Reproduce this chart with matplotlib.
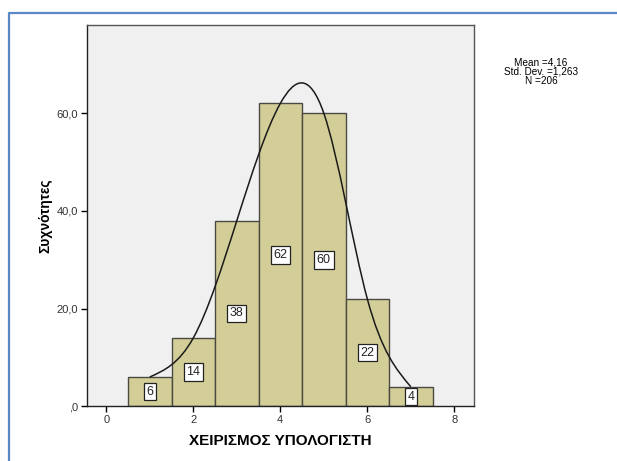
import numpy as np
import matplotlib
matplotlib.use("Agg")
import matplotlib.pyplot as plt
from matplotlib.path import Path
from matplotlib.patches import PathPatch
from matplotlib.lines import Line2D

# data
values = [1, 2, 3, 4, 5, 6, 7]
counts = [6, 14, 38, 62, 60, 22, 4]
x_ticks = [0, 2, 4, 6, 8]
y_ticks = [0, 20, 40, 60]
y_tick_labels = [",0", "20,0", "40,0", "60,0"]
stats_lines = ["Mean =4,16", "Std. Dev. =1,263", "N =206"]
x_title = "ΧΕΙΡΙΣΜΟΣ ΥΠΟΛΟΓΙΣΤΗ"
y_title = "Συχνότητες"

BAR = "#d3ce98"
EDGE = "#4a4a42"
PANEL = "#f0f0f0"
FRAME = "#5a87c5"

plt.rcParams["font.family"] = ["Liberation Sans", "DejaVu Sans"]


def spline_path(xs, ys):
    """Natural cubic spline through the bar tops, as bezier segments."""
    xs = np.asarray(xs, float)
    ys = np.asarray(ys, float)
    n = len(xs)
    h = np.diff(xs)
    A = np.zeros((n, n))
    rhs = np.zeros(n)
    A[0, 0] = A[-1, -1] = 1.0
    for i in range(1, n - 1):
        A[i, i - 1] = h[i - 1]
        A[i, i] = 2 * (h[i - 1] + h[i])
        A[i, i + 1] = h[i]
        rhs[i] = 6 * ((ys[i + 1] - ys[i]) / h[i] - (ys[i] - ys[i - 1]) / h[i - 1])
    M = np.linalg.solve(A, rhs)
    verts = [(xs[0], ys[0])]
    codes = [Path.MOVETO]
    for i in range(n - 1):
        slope = (ys[i + 1] - ys[i]) / h[i]
        d0 = slope - h[i] * (2 * M[i] + M[i + 1]) / 6
        d1 = slope + h[i] * (M[i] + 2 * M[i + 1]) / 6
        verts += [(xs[i] + h[i] / 3, ys[i] + d0 * h[i] / 3),
                  (xs[i + 1] - h[i] / 3, ys[i + 1] - d1 * h[i] / 3),
                  (xs[i + 1], ys[i + 1])]
        codes += [Path.CURVE4] * 3
    return Path(verts, codes)


W, H = 617, 461
fig = plt.figure(figsize=(W / 100, H / 100), dpi=100)
fig.patch.set_facecolor("white")

left, right, top, bottom = 87.3, 473.7, 25.3, 406.3
ax = fig.add_axes([left / W, 1 - bottom / H, (right - left) / W, (bottom - top) / H])
ax.set_facecolor(PANEL)

ax.bar(values, counts, width=1.0, color=BAR, edgecolor=EDGE, linewidth=1.0, zorder=2)
for v, c in zip(values, counts):
    ax.text(v, c / 2, str(c), ha="center", va="center", fontsize=9, color="#222222", zorder=5,
            bbox=dict(boxstyle="square,pad=0.22", fc="white", ec="#222222", lw=0.9))

ax.add_patch(PathPatch(spline_path(values, counts), fill=False, ec="#1a1a1a", lw=1.1, zorder=4))

ax.set_xlim(-0.437, 8.446)
ax.set_ylim(0, 78)
ax.set_xticks(x_ticks)
ax.set_xticklabels([str(t) for t in x_ticks])
ax.set_yticks(y_ticks)
ax.set_yticklabels(y_tick_labels)
ax.tick_params(direction="out", length=4.5, width=1.0, labelsize=8, labelcolor="#333333", pad=2)

for side in ["left", "bottom", "top", "right"]:
    ax.spines[side].set_color("#555555")
    ax.spines[side].set_linewidth(1.0)
ax.spines["left"].set_color("#222222")
ax.spines["bottom"].set_color("#222222")

fig.text(280.7 / W, 1 - 441.3 / H, x_title, ha="center", va="center", fontsize=11, fontweight="bold")
fig.text(45 / W, 1 - 215.5 / H, y_title, ha="center", va="center", rotation=90, fontsize=10, fontweight="bold")
fig.text(541 / W, 1 - 72 / H, "\n".join(stats_lines), ha="center", va="center", fontsize=7.2, linespacing=0.9)

# blue outer frame (left and top edges only)
fig.add_artist(Line2D([8.5 / W, 8.5 / W, 1.0], [0.0, 1 - 13 / H, 1 - 13 / H],
                      transform=fig.transFigure, color=FRAME, lw=1.6))

fig.savefig("out.png", dpi=100)
